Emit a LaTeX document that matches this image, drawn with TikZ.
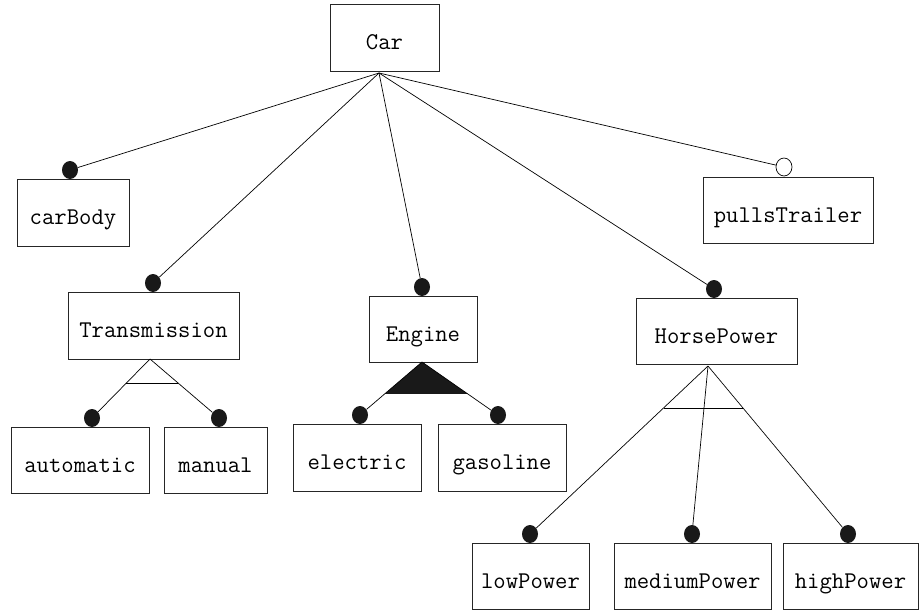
\documentclass[tikz,border=0pt]{standalone}
\usepackage{fontspec}
\usetikzlibrary{shapes.geometric,calc}
\begin{document}
\begin{tikzpicture}[x=1pt,y=-1pt,
  box/.style={draw=black!85, line width=0.9pt, inner sep=0pt, text height=24pt, text depth=0pt, font=\ttfamily\fontsize{24}{28}\selectfont},
  dot/.style={ellipse, fill=black!90, inner sep=0pt, minimum width=16pt, minimum height=18pt},
  odot/.style={ellipse, draw=black, fill=white, line width=0.7pt, inner sep=0pt, minimum width=16pt, minimum height=18pt},
  conn/.style={line width=0.7pt}]
\useasboundingbox[fill=white] (0,0) rectangle (919,611);
% boxes
\node[box, minimum width=109, minimum height=67] (car) at (384.5,37.5) {Car};
\node[box, minimum width=112, minimum height=67] (carbody) at (73,212.5) {carBody};
\node[box, minimum width=170, minimum height=66] (trailer) at (788,210) {pullsTrailer};
\node[box, minimum width=171, minimum height=67] (trans) at (153.5,325.5) {Transmission};
\node[box, minimum width=108, minimum height=66] (engine) at (423,329) {Engine};
\node[box, minimum width=161, minimum height=66] (hp) at (716.5,331) {HorsePower};
\node[box, minimum width=138, minimum height=66] (auto) at (80,460) {automatic};
\node[box, minimum width=103, minimum height=66] (manual) at (215.5,460) {manual};
\node[box, minimum width=128, minimum height=67] (elec) at (357,457.5) {electric};
\node[box, minimum width=128, minimum height=67] (gas) at (502,457.5) {gasoline};
\node[box, minimum width=117, minimum height=66] (low) at (530.5,576) {lowPower};
\node[box, minimum width=157, minimum height=66] (med) at (692.5,576) {mediumPower};
\node[box, minimum width=135, minimum height=66] (high) at (850.5,576) {highPower};
% dots
\node[dot] (dcarbody) at (70,170) {};
\node[odot] (dtrailer) at (784,167) {};
\node[dot] (dtrans) at (153,283) {};
\node[dot] (dengine) at (422,287) {};
\node[dot] (dhp) at (714,289) {};
\node[dot] (dauto) at (92,418) {};
\node[dot] (dmanual) at (219,418) {};
\node[dot] (delec) at (360,415) {};
\node[dot] (dgas) at (498,415) {};
\node[dot] (dlow) at (530,534) {};
\node[dot] (dmed) at (692,534) {};
\node[dot] (dhigh) at (848,534) {};
% anchor points
\coordinate (carpt) at (379,73);
\coordinate (tapex) at (150,359);
\coordinate (eapex) at (422,362);
\coordinate (hapex) at (708,366);
% Car connectors
\draw[conn] (carpt) -- (dcarbody);
\draw[conn] (carpt) -- (dtrailer);
\draw[conn] (carpt) -- (dtrans);
\draw[conn] (carpt) -- (dengine);
\draw[conn] (carpt) -- (dhp);
% Transmission alternative
\draw[conn] (tapex) -- (dauto);
\draw[conn] (tapex) -- (dmanual);
\draw[conn] ($(tapex)!0.407!(dauto.center)$) -- ($(tapex)!0.407!(dmanual.center)$);
% Engine or (filled)
\fill[black!90] (eapex) -- ($(eapex)!0.6!(delec.center)$) -- ($(eapex)!0.6!(dgas.center)$) -- cycle;
\draw[conn] (eapex) -- (delec);
\draw[conn] (eapex) -- (dgas);
% HorsePower alternative
\draw[conn] (hapex) -- (dlow);
\draw[conn] (hapex) -- (dmed);
\draw[conn] (hapex) -- (dhigh);
\draw[conn] ($(hapex)!0.25!(dlow.center)$) -- ($(hapex)!0.25!(dhigh.center)$);
\end{tikzpicture}
\end{document}
